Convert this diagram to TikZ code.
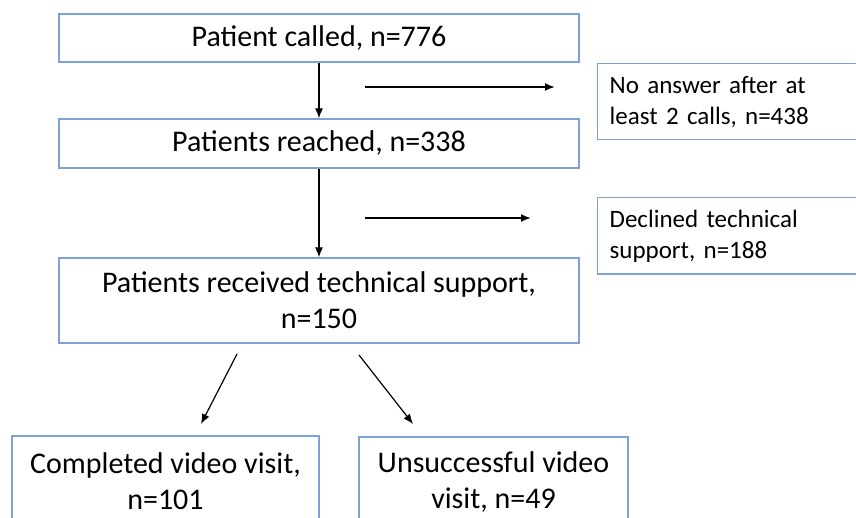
\documentclass[tikz,border=0pt]{standalone}
\usepackage{fontspec}
\setmainfont{Carlito}
\usetikzlibrary{arrows.meta}
\definecolor{boxblue}{RGB}{125,162,216}
\begin{document}
\begin{tikzpicture}[x=1pt,y=-1pt,
    flowbox/.style={draw=boxblue,line width=1.3pt,inner sep=0pt,align=center,
      font=\fontsize{30}{36}\selectfont},
    sidebox/.style={draw=boxblue,line width=1.3pt,inner sep=12pt,anchor=north west,
      text width=300pt,align=left,minimum height=76pt,font=\fontsize{25}{31}\selectfont},
    flowarrow/.style={-{Latex[length=10pt,width=8pt]},line width=1.2pt}]
  \useasboundingbox (0,0) rectangle (856,518);
  % main column
  \node[flowbox,minimum width=520pt,minimum height=48pt] (called) at (319,38) {Patient called, n=776};
  \node[flowbox,minimum width=520pt,minimum height=49pt] (reached) at (319,143.5) {Patients reached, n=338};
  \node[flowbox,minimum width=520pt,minimum height=85pt] (support) at (319,300.5) {Patients received technical support,\\n=150};
  % side boxes
  \node[sidebox] (noanswer) at (597,63) {No answer after at\\least 2 calls, n=438};
  \node[sidebox] (declined) at (597,197) {Declined technical\\support, n=188};
  % outcomes
  \node[flowbox,minimum width=307pt,minimum height=90pt] (completed) at (165.5,481) {Completed video visit,\\n=101};
  \node[flowbox,minimum width=269pt,minimum height=90pt] (unsuccess) at (493.5,482) {Unsuccessful video\\visit, n=49};
  % arrows
  \draw[flowarrow] (called) -- (reached);
  \draw[flowarrow] (reached) -- (support);
  \coordinate (noanswer-from) at (365,87);
  \coordinate (noanswer-to) at (555,87);
  \draw[flowarrow,line width=1.8pt] (noanswer-from) -- (noanswer-to);
  \coordinate (declined-from) at (365,218);
  \coordinate (declined-to) at (531,218);
  \draw[flowarrow,line width=1.8pt] (declined-from) -- (declined-to);
  \coordinate (completed-from) at (237,354);
  \coordinate (completed-to) at (201,424);
  \draw[flowarrow] (completed-from) -- (completed-to);
  \coordinate (unsuccess-from) at (359,355);
  \coordinate (unsuccess-to) at (413,424);
  \draw[flowarrow] (unsuccess-from) -- (unsuccess-to);
\end{tikzpicture}
\end{document}
